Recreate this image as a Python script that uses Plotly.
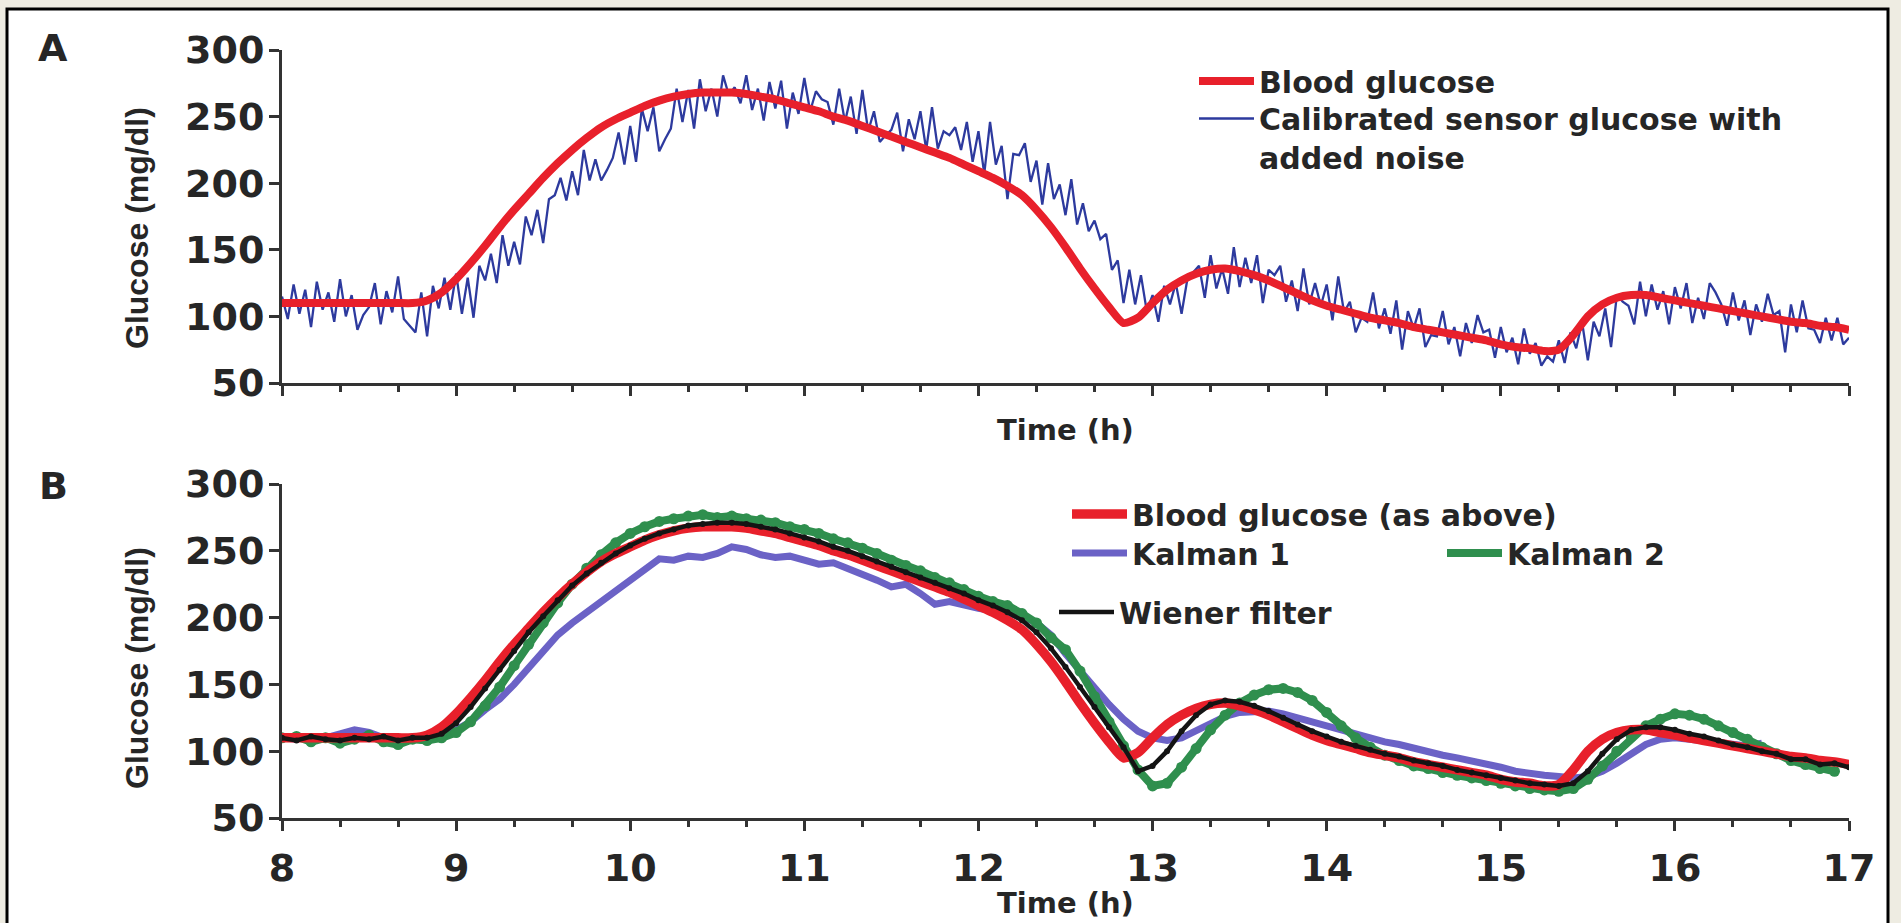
import plotly.graph_objects as go

W, H = 1901, 923
FONT = "DejaVu Sans"
TXT = "#262626"
AXC = "#333333"
RED = "#e8202b"
BLUE = "#2d3a9e"
PURPLE = "#6b62c6"
GREEN = "#2f8f4e"
BLACK = "#141414"

# ---------------- data ----------------
x_ticks = [8, 9, 10, 11, 12, 13, 14, 15, 16, 17]
y_ticks = [50, 100, 150, 200, 250, 300]

# Panel A: calibrated sensor glucose with added noise, one reading every 2 min from 08:00
sensor_start_h = 8.0
sensor_step_min = 2
sensor_glucose = [
    115, 98, 124, 102, 120, 92, 126, 105, 118, 96,
    128, 100, 116, 90, 101, 107, 125, 94, 119, 103,
    130, 98, 93, 88, 118, 85, 123, 106, 129, 105,
    132, 102, 129, 99, 138, 127, 147, 125, 161, 138,
    156, 139, 175, 161, 180, 155, 188, 191, 204, 187,
    209, 191, 225, 202, 218, 202, 210, 219, 238, 214,
    243, 216, 256, 239, 257, 224, 233, 241, 271, 246,
    270, 241, 278, 254, 271, 250, 281, 266, 272, 260,
    281, 255, 271, 247, 276, 256, 277, 241, 268, 252,
    279, 254, 269, 263, 261, 244, 271, 246, 265, 237,
    270, 239, 254, 231, 236, 240, 253, 224, 248, 233,
    254, 225, 257, 226, 239, 236, 242, 225, 246, 216,
    239, 207, 246, 214, 228, 188, 222, 221, 230, 201,
    217, 184, 215, 188, 199, 176, 203, 169, 185, 164,
    172, 158, 162, 135, 142, 110, 135, 109, 131, 104,
    116, 96, 123, 109, 125, 102, 128, 133, 138, 114,
    146, 121, 136, 117, 152, 122, 144, 125, 146, 110,
    135, 131, 138, 111, 127, 104, 136, 109, 125, 108,
    124, 97, 130, 103, 111, 88, 99, 96, 118, 91,
    106, 87, 112, 75, 104, 91, 106, 77, 86, 85,
    104, 79, 92, 70, 95, 80, 101, 88, 90, 69,
    92, 73, 84, 64, 91, 72, 80, 63, 70, 66,
    82, 65, 88, 76, 96, 67, 96, 85, 106, 77,
    116, 111, 108, 94, 126, 100, 124, 105, 119, 94,
    122, 106, 125, 95, 114, 98, 125, 118, 109, 93,
    118, 97, 112, 86, 109, 96, 117, 101, 104, 73,
    109, 88, 112, 91, 90, 80, 99, 82, 99, 79,
    84,
]

# Blood glucose and filter outputs, one value every 5 min from 08:00
curve_start_h = 8.0
curve_step_min = 5
blood_glucose = [
    110, 110, 110, 110, 110, 110, 110, 110, 110, 110,
    112, 118, 128, 140, 153, 167, 180, 192, 204, 215,
    225, 234, 242, 248, 253, 258, 262, 265, 267, 268,
    268, 268, 267, 265, 263, 260, 257, 254, 250, 247,
    243, 239, 235, 231, 227, 223, 219, 214, 209, 204,
    198, 191, 180, 167, 152, 136, 121, 107, 95, 99,
    110, 120, 127, 132, 135, 136, 134, 131, 127, 122,
    117, 112, 108, 105, 102, 99, 97, 95, 92, 90,
    88, 86, 84, 82, 79, 77, 76, 74, 75, 86,
    100, 109, 114, 116, 116, 114, 112, 110, 108, 106,
    104, 102, 100, 98, 96, 95, 93, 92, 90,
]
kalman_1 = [
    110, 109, 111, 110, 113, 116, 114, 110, 109, 110,
    110, 112, 116, 122, 131, 139, 150, 162, 175, 187,
    196, 204, 211, 220, 228, 236, 244, 243, 246, 245,
    248, 253, 251, 247, 245, 246, 243, 240, 241, 237,
    233, 228, 223, 225, 218, 210, 212, 209, 207, 205,
    203, 201, 196, 187, 173, 160, 148, 135, 124, 115,
    110, 108, 110, 115, 121, 126, 129, 130, 130, 128,
    125, 122, 118, 115, 112, 110, 107, 105, 102, 99,
    97, 95, 93, 90, 88, 85, 83, 82, 81, 80,
    81, 85, 91, 98, 105, 109, 110, 109, 108, 106,
    105, 104, 106,
]
kalman_2 = [
    110, 111, 107, 110, 106, 109, 112, 107, 105, 109,
    108, 110, 114, 122, 134, 148, 164, 180, 196, 211,
    225, 237, 247, 256, 263, 268, 272, 274, 276, 277,
    275, 276, 274, 273, 271, 268, 266, 263, 259, 256,
    252, 248, 243, 239, 235, 230, 226, 221, 216, 212,
    209, 203, 196, 185, 176, 160, 141, 122, 104, 86,
    74, 76, 88, 102, 116, 127, 136, 142, 146, 147,
    144, 138, 129, 119, 110, 103, 97, 93, 89, 87,
    84, 82, 80, 78, 76, 74, 72, 71, 70, 72,
    79, 89, 100, 111, 119, 124, 128, 127, 124, 119,
    114, 109, 103, 98, 93, 90, 87, 85,
]
wiener_filter = [
    110, 108, 111, 109, 108, 110, 109, 111, 108, 110,
    110, 113, 121, 133, 147, 161, 175, 189, 201, 213,
    224, 233, 241, 248, 254, 259, 263, 266, 269, 270,
    271, 271, 270, 268, 266, 263, 260, 257, 253, 250,
    246, 242, 238, 234, 230, 226, 222, 218, 213, 209,
    204, 198, 189, 177, 163, 148, 133, 118, 103, 85,
    89, 100, 115, 127, 135, 138, 137, 134, 130, 125,
    120, 115, 111, 107, 104, 101, 98, 96, 93, 91,
    89, 86, 84, 82, 80, 78, 76, 75, 74, 76,
    85, 98, 109, 116, 118, 118, 116, 113, 111, 108,
    105, 103, 100, 98, 94, 94, 90, 91, 88,
]


def clock(n, start_h, step_min):
    return [start_h + i * step_min / 60.0 for i in range(n)]


t_sensor = clock(len(sensor_glucose), sensor_start_h, sensor_step_min)
t_bg = clock(len(blood_glucose), curve_start_h, curve_step_min)
t_k1 = clock(len(kalman_1), curve_start_h, curve_step_min)
t_k2 = clock(len(kalman_2), curve_start_h, curve_step_min)
t_wf = clock(len(wiener_filter), curve_start_h, curve_step_min)

# ---------------- figure ----------------
fig = go.Figure()

# Panel A
fig.add_trace(go.Scatter(x=t_sensor, y=sensor_glucose, mode="lines",
                         line=dict(color=BLUE, width=2.3),
                         name="Calibrated sensor glucose with<br>added noise",
                         legend="legend2", xaxis="x", yaxis="y"))
fig.add_trace(go.Scatter(x=t_bg, y=blood_glucose, mode="lines",
                         line=dict(color=RED, width=8, shape="spline", smoothing=0.6),
                         name="Blood glucose", legend="legend", xaxis="x", yaxis="y"))

# Panel B
fig.add_trace(go.Scatter(x=t_k1, y=kalman_1, mode="lines",
                         line=dict(color=PURPLE, width=7),
                         name="Kalman 1", legend="legend4", xaxis="x2", yaxis="y2"))
fig.add_trace(go.Scatter(x=t_k2, y=kalman_2, mode="lines",
                         line=dict(color=GREEN, width=8),
                         name="Kalman 2", legend="legend5", xaxis="x2", yaxis="y2"))
fig.add_trace(go.Scatter(x=t_k2, y=kalman_2, mode="markers",
                         marker=dict(color=GREEN, size=11),
                         showlegend=False, hoverinfo="skip", xaxis="x2", yaxis="y2"))
fig.add_trace(go.Scatter(x=t_bg, y=blood_glucose, mode="lines",
                         line=dict(color=RED, width=9.5, shape="spline", smoothing=0.6),
                         name="Blood glucose (as above)", legend="legend3",
                         xaxis="x2", yaxis="y2"))
fig.add_trace(go.Scatter(x=t_wf, y=wiener_filter, mode="lines",
                         line=dict(color=BLACK, width=4.5),
                         name="Wiener filter", legend="legend6", xaxis="x2", yaxis="y2"))
fig.add_trace(go.Scatter(x=t_wf, y=wiener_filter, mode="markers",
                         marker=dict(color=BLACK, size=6),
                         showlegend=False, hoverinfo="skip", xaxis="x2", yaxis="y2"))


def fx(p):
    return p / W


def fy(p):
    return 1 - p / H


tick_font = dict(family=FONT, size=38, color=TXT, weight="bold")
xdom = [fx(282), fx(1849)]

common_x = dict(range=[8, 17], domain=xdom, showgrid=False, zeroline=False,
                automargin=False, ticklabelstandoff=4,
                showline=True, linecolor=AXC, linewidth=3,
                ticks="outside", ticklen=10, tickwidth=3, tickcolor=AXC,
                tickvals=x_ticks, tickfont=tick_font,
                minor=dict(dtick=1 / 3, tick0=8, ticks="outside", ticklen=6,
                           tickwidth=3, tickcolor=AXC, showgrid=False))
common_y = dict(range=[50, 300], showgrid=False, zeroline=False,
                automargin=False, ticklabelstandoff=-3,
                showline=True, linecolor=AXC, linewidth=3,
                ticks="outside", ticklen=10, tickwidth=3, tickcolor=AXC,
                tickvals=y_ticks, tickfont=tick_font)

legend_font = dict(family=FONT, size=30, color=TXT, weight="bold")


def leg(text_x, row_y, valign="middle"):
    return dict(x=fx(text_x - 67), y=fy(row_y), xanchor="left", yanchor="middle",
                bgcolor="rgba(0,0,0,0)", font=legend_font, itemwidth=55,
                valign=valign, borderwidth=0)


label_font = dict(family=FONT, size=38, color=TXT, weight="bold")
ytitle_font = dict(family="Liberation Sans", size=32, color=TXT, weight="bold")
xtitle_font = dict(family=FONT, size=29, color=TXT, weight="bold")


def note(text, x, y, font, angle=0):
    return dict(text=text, x=fx(x), y=fy(y), xref="paper", yref="paper",
                xanchor="center", yanchor="middle", textangle=angle,
                showarrow=False, font=font)


fig.update_layout(
    template="none",
    width=W, height=H, autosize=False,
    margin=dict(l=0, r=0, t=0, b=0, pad=0, autoexpand=False),
    paper_bgcolor="#eeece2", plot_bgcolor="rgba(0,0,0,0)",
    showlegend=True,
    xaxis=dict(common_x, anchor="y", showticklabels=False),
    yaxis=dict(common_y, anchor="x", domain=[fy(383), fy(50)]),
    xaxis2=dict(common_x, anchor="y2", showticklabels=True),
    yaxis2=dict(common_y, anchor="x2", domain=[fy(818), fy(484)]),
    legend=leg(1261, 81),
    legend2=leg(1261, 138, valign="top"),
    legend3=leg(1134, 514),
    legend4=leg(1134, 553),
    legend5=leg(1509, 553),
    legend6=leg(1121, 612),
    shapes=[dict(type="rect", xref="paper", yref="paper",
                 x0=fx(7), x1=fx(1888), y0=-0.1, y1=fy(9),
                 line=dict(color="black", width=3), fillcolor="white", layer="below")],
    annotations=[
        note("A", 53, 48, label_font),
        note("B", 53, 486, label_font),
        note("Glucose (mg/dl)", 137, 228, ytitle_font, -90),
        note("Glucose (mg/dl)", 137, 668, ytitle_font, -90),
        note("Time (h)", 1065, 430, xtitle_font),
        note("Time (h)", 1065, 903, xtitle_font),
    ],
)

fig.write_html("out.html")
